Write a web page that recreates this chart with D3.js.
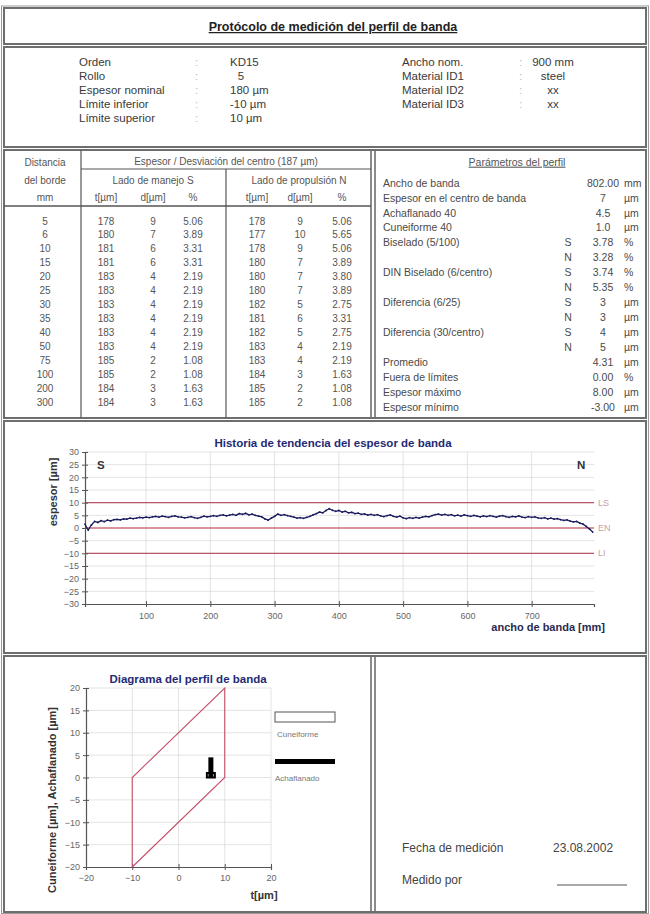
<!DOCTYPE html>
<html><head><meta charset="utf-8">
<script src="https://cdn.jsdelivr.net/npm/d3@7"></script>
<style>body{margin:0;background:#fff} svg{display:block;font-family:"Liberation Sans",Arial,sans-serif}</style>
</head><body><svg id="c" width="650" height="914"></svg>
<script>
// ---------------- data ----------------
const docTitle = "Protócolo de medición del perfil de banda";
const headLeftLabels = ["Orden","Rollo","Espesor nominal","Límite inferior","Límite superior"];
const headLeftValues = ["KD15","5","180 µm","-10 µm","10 µm"];
const headRightLabels = ["Ancho nom.","Material ID1","Material ID2","Material ID3"];
const headRightValues = ["900 mm","steel","xx","xx"];

const distances = [5,6,10,15,20,25,30,35,40,50,75,100,200,300];
const sT = [178,180,181,181,183,183,183,183,183,183,185,185,184,184];
const sD = [9,7,6,6,4,4,4,4,4,4,2,2,3,3];
const sP = ["5.06","3.89","3.31","3.31","2.19","2.19","2.19","2.19","2.19","2.19","1.08","1.08","1.63","1.63"];
const nT = [178,177,178,180,180,180,182,181,182,183,183,184,185,185];
const nD = [9,10,9,7,7,7,5,6,5,4,4,3,2,2];
const nP = ["5.06","5.65","5.06","3.89","3.80","3.89","2.75","3.31","2.75","2.19","2.19","1.63","1.08","1.08"];

const paramLabels = ["Ancho de banda","Espesor en el centro de banda","Achaflanado 40","Cuneiforme 40","Biselado (5/100)","","DIN Biselado (6/centro)","","Diferencia (6/25)","","Diferencia (30/centro)","","Promedio","Fuera de límites","Espesor máximo","Espesor mínimo"];
const paramSide = ["","","","","S","N","S","N","S","N","S","N","","","",""];
const paramValues = ["802.00","7","4.5","1.0","3.78","3.28","3.74","5.35","3","3","4","5","4.31","0.00","8.00","-3.00"];
const paramUnits = ["mm","µm","µm","µm","%","%","%","%","µm","µm","µm","µm","µm","%","µm","µm"];

const trendPos = [5,10,15,20,25,30,35,40,45,50,55,60,65,70,75,80,85,90,95,100,
 105,110,115,120,125,130,135,140,145,150,155,160,165,170,175,180,185,190,195,200,
 205,210,215,220,225,230,235,240,245,250,255,260,265,270,275,280,285,290,295,300,
 305,310,315,320,325,330,335,340,345,350,355,360,365,370,375,380,385,390,395,400,
 405,410,415,420,425,430,435,440,445,450,455,460,465,470,475,480,485,490,495,500,
 505,510,515,520,525,530,535,540,545,550,555,560,565,570,575,580,585,590,595,600,
 605,610,615,620,625,630,635,640,645,650,655,660,665,670,675,680,685,690,695,700,
 705,710,715,720,725,730,735,740,745,750,755,760,765,770,775,780,785,790,795];
const trendVal = [1.5,-0.8,1.2,2.6,2.2,2.9,2.5,3.1,2.8,3.3,3.4,3.2,3.6,3.5,3.9,3.7,3.9,4.2,4.0,4.3,
 4.1,4.4,4.6,4.3,4.7,4.5,4.2,4.6,4.8,4.4,4.3,4.0,4.2,4.5,4.1,3.8,4.2,4.7,4.4,4.6,
 4.9,4.6,5.0,5.2,4.8,5.1,5.4,5.0,5.7,5.4,5.8,5.2,5.5,5.0,4.7,4.4,3.6,3.1,3.9,4.6,
 5.5,5.0,5.3,4.9,4.6,4.3,3.9,4.1,3.8,4.2,4.6,5.2,5.7,6.3,6.0,6.9,7.6,7.0,6.6,6.9,
 6.3,6.6,6.0,6.2,5.7,5.9,5.4,5.6,5.1,5.4,5.0,5.3,4.8,4.5,4.9,5.2,4.6,4.3,4.7,4.0,
 3.7,4.1,3.8,4.2,3.9,4.3,4.6,4.4,4.9,5.3,5.5,5.1,5.4,5.0,5.3,4.8,5.1,4.7,5.2,4.9,
 4.6,5.0,4.7,4.4,4.8,4.5,4.9,4.6,4.3,4.7,4.9,4.5,4.2,4.6,4.4,4.8,4.3,4.1,4.5,4.2,
 4.4,4.0,3.8,4.1,3.6,3.9,3.5,3.7,3.3,3.0,3.2,2.7,2.4,2.6,1.9,1.5,0.6,-0.4,-1.6];
const limitValues = [10,0,-10];
const limitNames = ["LS","EN","LI"];
const trendXTicks = [100,200,300,400,500,600,700];

const profileTicks = [-20,-10,0,10,20];
const profileYTicks = [20,15,10,5,0,-5,-10,-15,-20];
const profilePoly = [[-10,-20],[-10,0],[10,20],[10,0],[-10,-20]];
const profileCentre = 7, profileAchaf = 4.5, profileCune = 1.0;
const legendNames = ["Cuneiforme","Achaflanado"];

const footLabels = ["Fecha de medición","Medido por"];
const footValues = ["23.08.2002",""];

// ---------------- drawing ----------------
const svg = d3.select("#c");
const txt = "#3a3a3a";
const frame = "#6e6e6e";

const sections = [[8,44],[47,147],[150,418],[421,653],[656,912]];
svg.selectAll("rect.sec").data(sections).join("rect")
  .attr("x",4).attr("width",642).attr("y",d=>d[0]).attr("height",d=>d[1]-d[0])
  .attr("fill","none").attr("stroke",frame).attr("stroke-width",2);
svg.append("rect").attr("x",1.5).attr("y",6).attr("width",647).attr("height",907.5)
  .attr("fill","none").attr("stroke","#9a9a9a").attr("stroke-width",1);
[[150,418],[656,912]].forEach(s=>{
  [371,375].forEach(x=>svg.append("line").attr("x1",x).attr("x2",x).attr("y1",s[0]).attr("y2",s[1])
   .attr("stroke",frame).attr("stroke-width",1.6));
});

svg.append("text").attr("x",333).attr("y",31).attr("text-anchor","middle")
  .attr("font-size",12.5).attr("font-weight","bold").attr("fill","#222")
  .style("text-decoration","underline").text(docTitle);

const hY = [62,76,90,104,118];
headLeftLabels.forEach((l,i)=>{
  svg.append("text").attr("x",79).attr("y",hY[i]).attr("dy","0.35em").attr("font-size",11.5).attr("fill",txt).text(l);
  svg.append("text").attr("x",195).attr("y",hY[i]).attr("dy","0.35em").attr("font-size",11.5).attr("fill","#bbb").text(":");
  svg.append("text").attr("x",i===1?241:230).attr("y",hY[i]).attr("dy","0.35em").attr("font-size",11.5).attr("fill",txt)
    .attr("text-anchor",i===1?"middle":"start").text(headLeftValues[i]);
});
headRightLabels.forEach((l,i)=>{
  svg.append("text").attr("x",402).attr("y",hY[i]).attr("dy","0.35em").attr("font-size",11.5).attr("fill",txt).text(l);
  svg.append("text").attr("x",519).attr("y",hY[i]).attr("dy","0.35em").attr("font-size",11.5).attr("fill","#bbb").text(":");
  svg.append("text").attr("x",553).attr("y",hY[i]).attr("dy","0.35em").attr("font-size",11.5).attr("fill",txt)
    .attr("text-anchor","middle").text(headRightValues[i]);
});

const tl = (x1,y1,x2,y2,w)=>svg.append("line").attr("x1",x1).attr("y1",y1).attr("x2",x2).attr("y2",y2)
  .attr("stroke","#555").attr("stroke-width",w||1);
tl(81,150,81,418,1.2);
tl(81,169,371,169,1.2);
tl(226,169,226,418,1.2);
tl(4,206,371,206,1.4);
const tf = 10;
const ht = (x,y,s,anchor)=>svg.append("text").attr("x",x).attr("y",y).attr("dy","0.35em")
  .attr("text-anchor",anchor||"middle").attr("font-size",tf).attr("fill","#555").text(s);
ht(45,162,"Distancia"); ht(45,180,"del borde"); ht(45,197,"mm");
ht(226,161,"Espesor / Desviación del centro (187 µm)");
ht(153,180,"Lado de manejo S"); ht(299,180,"Lado de propulsión N");
const colX = [106,153,193,257,300,342];
["t[µm]","d[µm]","%","t[µm]","d[µm]","%"].forEach((s,i)=>ht(colX[i],197,s));
const rowY = d3.scaleLinear().domain([0,distances.length-1]).range([221,402]);
const cols = [sT,sD,sP,nT,nD,nP];
distances.forEach((d,i)=>{
  ht(45,rowY(i),String(d));
  cols.forEach((c,j)=>ht(colX[j],rowY(i),String(c[i])));
});

svg.append("text").attr("x",517).attr("y",162).attr("dy","0.35em").attr("text-anchor","middle")
  .attr("font-size",10.5).attr("fill","#555").style("text-decoration","underline").text("Parámetros del perfil");
const pY = d3.scaleLinear().domain([0,paramLabels.length-1]).range([183,407]);
paramLabels.forEach((l,i)=>{
  const y = pY(i);
  svg.append("text").attr("x",383).attr("y",y).attr("dy","0.35em").attr("font-size",10.5).attr("fill","#4a4a4a").text(l);
  svg.append("text").attr("x",568).attr("y",y).attr("dy","0.35em").attr("text-anchor","middle").attr("font-size",10.5).attr("fill","#4a4a4a").text(paramSide[i]);
  svg.append("text").attr("x",603).attr("y",y).attr("dy","0.35em").attr("text-anchor","middle").attr("font-size",10.5).attr("fill","#4a4a4a").text(paramValues[i]);
  svg.append("text").attr("x",624).attr("y",y).attr("dy","0.35em").attr("font-size",10.5).attr("fill","#4a4a4a").text(paramUnits[i]);
});

// ---------------- trend chart ----------------
const tx = d3.scaleLinear().domain([5,797]).range([85,594]);
const ty = d3.scaleLinear().domain([-30,30]).range([604,452]);
const navy = "#1f2a74";
const grid = "#dcdcdc";
const tg = svg.append("g");
tg.selectAll("line.hg").data(d3.range(-25,31,5)).join("line")
  .attr("x1",tx(5)).attr("x2",tx(797)).attr("y1",d=>ty(d)).attr("y2",d=>ty(d)).attr("stroke",grid).attr("stroke-width",0.8);
tg.selectAll("line.vg").data(trendXTicks).join("line")
  .attr("x1",d=>tx(d)).attr("x2",d=>tx(d)).attr("y1",ty(30)).attr("y2",ty(-30)).attr("stroke",grid).attr("stroke-width",0.8);
tg.selectAll("line.lim").data(limitValues).join("line")
  .attr("x1",tx(5)).attr("x2",tx(797)).attr("y1",d=>ty(d)).attr("y2",d=>ty(d))
  .attr("stroke",(d,i)=>i===1?"#c0364a":"#b8566a").attr("stroke-width",1.2);
tg.selectAll("text.lim").data(limitValues).join("text")
  .attr("x",tx(797)+4).attr("y",d=>ty(d)).attr("dy","0.35em").attr("font-size",9).attr("fill","#c9a0a8")
  .text((d,i)=>limitNames[i]);
const yAx = tg.append("g").attr("transform",`translate(${tx(5)},0)`)
  .call(d3.axisLeft(ty).tickValues(d3.range(-30,31,5)).tickSize(3).tickPadding(3));
const xAx = tg.append("g").attr("transform",`translate(0,${ty(-30)})`)
  .call(d3.axisBottom(tx).tickValues(trendXTicks).tickSize(3).tickPadding(6));
[yAx,xAx].forEach(a=>{
  a.select(".domain").attr("stroke","#555").attr("stroke-width",1.2);
  a.selectAll(".tick text").attr("font-size",9).attr("fill","#666").attr("font-family","Liberation Sans, Arial, sans-serif");
  a.selectAll(".tick line").attr("stroke","#555");
});
yAx.selectAll(".tick line").attr("x1",3).attr("x2",-3);
xAx.selectAll(".tick line").attr("y1",-3).attr("y2",3);
const line = d3.line().x((d,i)=>tx(trendPos[i])).y(d=>ty(d));
tg.append("path").datum(trendVal).attr("d",line).attr("fill","none").attr("stroke","#1a1a5e").attr("stroke-width",1.3);
tg.selectAll("circle.pt").data(trendVal).join("circle").attr("cx",(d,i)=>tx(trendPos[i])).attr("cy",d=>ty(d))
  .attr("r",0.9).attr("fill","#1a1a5e");
tg.append("text").attr("x",333).attr("y",443).attr("dy","0.35em").attr("text-anchor","middle").attr("font-size",11.5)
  .attr("font-weight","bold").attr("fill",navy).text("Historia de tendencia del espesor de banda");
tg.append("text").attr("x",tx(5)+12).attr("y",ty(25)).attr("dy","0.35em").attr("font-size",11.5).attr("font-weight","bold").attr("fill","#333").text("S");
tg.append("text").attr("x",577).attr("y",ty(25)).attr("dy","0.35em").attr("font-size",11.5).attr("font-weight","bold").attr("fill","#333").text("N");
tg.append("text").attr("transform",`translate(53,492) rotate(-90)`).attr("dy","0.35em").attr("text-anchor","middle")
  .attr("font-size",11).attr("font-weight","bold").attr("fill","#333").text("espesor [µm]");
tg.append("text").attr("x",605).attr("y",627).attr("dy","0.35em").attr("text-anchor","end").attr("font-size",11)
  .attr("font-weight","bold").attr("fill","#2a2a50").text("ancho de banda [mm]");

// ---------------- profile diagram ----------------
const px = d3.scaleLinear().domain([-20,20]).range([86,271]);
const py = d3.scaleLinear().domain([-20,20]).range([867,688]);
const pg = svg.append("g");
pg.selectAll("line.hg").data(profileYTicks.filter(v=>v!==-20)).join("line")
  .attr("x1",px(-20)).attr("x2",px(20)).attr("y1",d=>py(d)).attr("y2",d=>py(d)).attr("stroke",grid).attr("stroke-width",0.8);
pg.selectAll("line.vg").data(profileTicks.filter(v=>v!==-20)).join("line")
  .attr("x1",d=>px(d)).attr("x2",d=>px(d)).attr("y1",py(20)).attr("y2",py(-20)).attr("stroke",grid).attr("stroke-width",0.8);
const pyAx = pg.append("g").attr("transform",`translate(${px(-20)},0)`)
  .call(d3.axisLeft(py).tickValues(profileYTicks).tickSize(3).tickPadding(3));
const pxAx = pg.append("g").attr("transform",`translate(0,${py(-20)})`)
  .call(d3.axisBottom(px).tickValues(profileTicks).tickSize(3).tickPadding(5));
[pyAx,pxAx].forEach(a=>{
  a.select(".domain").attr("stroke","#555").attr("stroke-width",1.2);
  a.selectAll(".tick text").attr("font-size",9).attr("fill","#666").attr("font-family","Liberation Sans, Arial, sans-serif");
  a.selectAll(".tick line").attr("stroke","#555");
});
pyAx.selectAll(".tick line").attr("x1",3).attr("x2",-3);
pxAx.selectAll(".tick line").attr("y1",-3).attr("y2",3);
pg.append("path").datum(profilePoly).attr("d",d3.line().x(d=>px(d[0])).y(d=>py(d[1])))
  .attr("fill","none").attr("stroke","#c4506a").attr("stroke-width",1.1);
pg.append("rect").attr("x",px(profileCentre)-4).attr("width",8).attr("y",py(profileCune)).attr("height",py(0)-py(profileCune))
  .attr("fill","#fff").attr("stroke","#000").attr("stroke-width",2);
pg.append("rect").attr("x",px(profileCentre)-2.5).attr("width",5).attr("y",py(profileAchaf)).attr("height",py(0)-py(profileAchaf))
  .attr("fill","#000");
pg.append("rect").attr("x",275).attr("y",712).attr("width",60).attr("height",10).attr("fill","#fff").attr("stroke","#555").attr("stroke-width",1);
pg.append("rect").attr("x",275).attr("y",759).attr("width",60).attr("height",5).attr("fill","#000");
pg.append("text").attr("x",277).attr("y",734).attr("dy","0.35em").attr("font-size",8).attr("fill","#777").text(legendNames[0]);
pg.append("text").attr("x",275).attr("y",778).attr("dy","0.35em").attr("font-size",8).attr("fill","#777").text(legendNames[1]);
pg.append("text").attr("x",188).attr("y",679).attr("dy","0.35em").attr("text-anchor","middle").attr("font-size",11.5)
  .attr("font-weight","bold").attr("fill",navy).text("Diagrama del perfil de banda");
pg.append("text").attr("transform",`translate(52,800) rotate(-90)`).attr("dy","0.35em").attr("text-anchor","middle")
  .attr("font-size",11).attr("font-weight","bold").attr("fill","#333").text("Cuneiforme [µm], Achaflanado [µm]");
pg.append("text").attr("x",264).attr("y",895).attr("dy","0.35em").attr("text-anchor","middle").attr("font-size",11)
  .attr("font-weight","bold").attr("fill","#333").text("t[µm]");

const fY = [848,880];
footLabels.forEach((l,i)=>{
  svg.append("text").attr("x",402).attr("y",fY[i]).attr("dy","0.35em").attr("font-size",12).attr("fill","#444").text(l);
  if (footValues[i]) svg.append("text").attr("x",553).attr("y",fY[i]).attr("dy","0.35em").attr("font-size",12).attr("fill","#444").text(footValues[i]);
});
svg.append("line").attr("x1",557).attr("x2",627).attr("y1",885).attr("y2",885).attr("stroke","#555").attr("stroke-width",1.2);
</script></body></html>
